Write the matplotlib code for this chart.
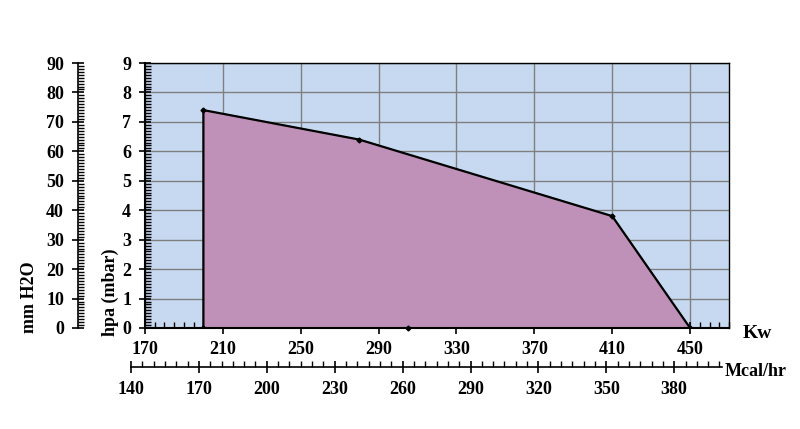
import matplotlib.pyplot as plt
from matplotlib.ticker import MultipleLocator

# chart data (Kw vs hpa)
kw = [200, 200, 280, 410, 450]
hpa = [0, 7.4, 6.4, 3.8, 0]
kw_ticks = [170, 210, 250, 290, 330, 370, 410, 450]
mcal_ticks = [140, 170, 200, 230, 260, 290, 320, 350, 380]

plt.rcParams['font.family'] = ['Liberation Serif', 'DejaVu Serif']
plt.rcParams['font.weight'] = 'bold'

W, H = 800, 429
FS = 13
fig = plt.figure(figsize=(8, 4.29), dpi=100)

def box(x0, y0, x1, y1):
    # pixel box -> figure fraction
    return [x0 / W, 1 - y1 / H, (x1 - x0) / W, (y1 - y0) / H]

# main plot
ax = fig.add_axes(box(145, 63, 729, 328))
ax.set_facecolor('#C6D9F0')
ax.fill(kw, hpa, color='#BF91B8', zorder=2)
ax.plot(kw, hpa, color='black', lw=1.6, marker='D', ms=2.5, zorder=3)
ax.plot([305], [0], 'kD', ms=2.5, zorder=4, clip_on=False)
ax.set_xlim(170, 470)
ax.set_ylim(0, 9)
ax.set_xticks(kw_ticks)
ax.set_yticks(range(0, 10))
ax.xaxis.set_minor_locator(MultipleLocator(5))
ax.yaxis.set_minor_locator(MultipleLocator(0.1))
ax.grid(True, which='major', color='#7F7F7F', lw=1.0, zorder=1)
ax.set_axisbelow(True)
for s in ax.spines.values():
    s.set_color('black')
    s.set_linewidth(1.0)
ax.spines['left'].set_linewidth(1.5)
ax.spines['bottom'].set_linewidth(1.5)
ax.tick_params(which='major', direction='inout', length=8, width=1.2, labelsize=FS)
ax.tick_params(which='minor', direction='in', length=4, width=1.0)
ax.tick_params(axis='x', pad=5)
ax.tick_params(axis='y', pad=6)
fig.text(110 / W, 1 - 292 / H, 'hpa (mbar)', fontsize=FS, fontweight='bold',
         rotation=90, ha='center', va='center')
fig.text(757 / W, 1 - 333 / H, 'Kw', fontsize=FS + 1, fontweight='bold', ha='center', va='center')

# mm H2O axis on the far left
ax2 = fig.add_axes(box(78, 63, 78.1, 328))
ax2.set_ylim(0, 90)
ax2.set_yticks(range(0, 100, 10))
ax2.yaxis.set_minor_locator(MultipleLocator(1))
ax2.set_xticks([])
for k in ['top', 'right', 'bottom']:
    ax2.spines[k].set_visible(False)
ax2.spines['left'].set_linewidth(1.2)
ax2.patch.set_visible(False)
ax2.tick_params(which='major', direction='inout', length=8, width=1.2, labelsize=FS, pad=6)
ax2.tick_params(which='minor', direction='in', length=4, width=1.0)
fig.text(30 / W, 1 - 297 / H, 'mm H2O', fontsize=FS, fontweight='bold',
         rotation=90, ha='center', va='center')

# Mcal/hr axis below (1 kW = 0.86 Mcal/hr)
px_per_mcal = (584 / 300) / 0.86
x_left = 145 - (170 * 0.86 - 140) * px_per_mcal
x_right = 722
ax3 = fig.add_axes(box(x_left, 367, x_right, 367.1))
ax3.set_xlim(140, 140 + (x_right - x_left) / px_per_mcal)
ax3.set_xticks(mcal_ticks)
ax3.xaxis.set_minor_locator(MultipleLocator(5))
ax3.set_yticks([])
for k in ['top', 'right', 'left']:
    ax3.spines[k].set_visible(False)
ax3.spines['bottom'].set_linewidth(1.2)
ax3.patch.set_visible(False)
ax3.tick_params(which='major', direction='inout', length=8, width=1.2, labelsize=FS, pad=6)
ax3.tick_params(which='minor', direction='in', length=4, width=1.0)
fig.text(756 / W, 1 - 372 / H, 'Mcal/hr', fontsize=FS, fontweight='bold', ha='center', va='center')

fig.savefig('out.png', dpi=100)
